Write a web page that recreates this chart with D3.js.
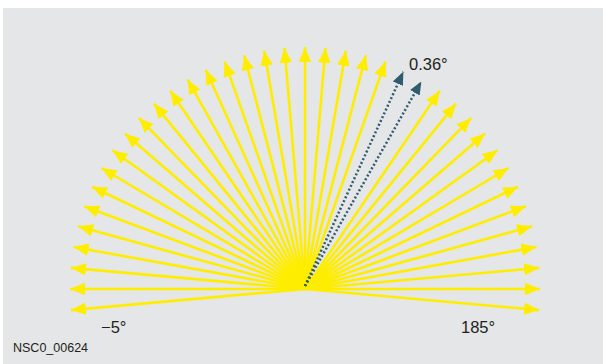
<!DOCTYPE html>
<html>
<head>
<meta charset="utf-8">
<title>fan</title>
<script src="https://cdn.jsdelivr.net/npm/d3@7"></script>
<style>
  body { margin: 0; background: #fff; }
  text { font-family: "Liberation Sans", Arial, sans-serif; fill: #231f20; }
</style>
</head>
<body>
<svg id="chart" width="603" height="364"></svg>
<script>
// beam directions in degrees (0 = pointing left, 90 = up, 180 = right)
var yellowAngles = [-5, 0, 5, 10, 15, 20, 25, 30, 35, 40, 45, 50, 55, 60, 65, 70, 75, 80, 85, 90,
  95, 100, 105, 110, 125, 130, 135, 140, 145, 150, 155, 160, 165, 170, 175, 180, 185]
var blueAngles = [115, 120]
var blueLengths = [0.99, 0.99]
var endLabels = ["\u22125\u00b0", "185\u00b0"]
var stepLabel = "0.36\u00b0"
var figId = "NSC0_00624"

var svg = d3.select("#chart")

// background panel
svg.append("rect").attr("x", 3).attr("y", 8).attr("width", 600).attr("height", 356).attr("fill", "#e5e6e7")

var cx = 305, cy = 289
// unit vector -> pixel
var x = d3.scaleLinear().domain([-1, 1]).range([cx - 235, cx + 235])
var y = d3.scaleLinear().domain([0, 1]).range([cy, cy - 242])
var rad = d3.scaleLinear().domain([0, 180]).range([0, Math.PI])

var defs = svg.append("defs")
function marker(id, color, w, h) {
  defs.append("marker")
    .attr("id", id)
    .attr("markerUnits", "userSpaceOnUse")
    .attr("viewBox", "0 0 " + w + " " + h)
    .attr("refX", w).attr("refY", h / 2)
    .attr("markerWidth", w).attr("markerHeight", h)
    .attr("orient", "auto")
    .append("path")
    .attr("d", "M0,0L" + w + "," + (h / 2) + "L0," + h + "Z")
    .attr("fill", color)
}
marker("headY", "#ffed00", 15, 12.5)
marker("headB", "#2f5c6e", 13, 11)

var g = svg.append("g")

g.selectAll("line.y")
  .data(yellowAngles)
  .enter()
  .append("line")
  .attr("class", "y")
  .attr("x1", x(0)).attr("y1", y(0))
  .attr("x2", function (d) { return x(-Math.cos(rad(d))) })
  .attr("y2", function (d) { return y(Math.sin(rad(d))) })
  .attr("stroke", "#ffed00")
  .attr("stroke-width", 2.6)
  .attr("marker-end", "url(#headY)")

g.selectAll("line.b")
  .data(blueAngles)
  .enter()
  .append("line")
  .attr("class", "b")
  .attr("x1", x(0)).attr("y1", y(0) - 3)
  .attr("x2", function (d, i) { return x(-Math.cos(rad(d)) * blueLengths[i]) })
  .attr("y2", function (d, i) { return y(Math.sin(rad(d)) * blueLengths[i]) })
  .attr("stroke", "#2f5c6e")
  .attr("stroke-width", 2.5)
  .attr("stroke-dasharray", "2,2.2")
  .attr("marker-end", "url(#headB)")

svg.append("text").attr("x", 409).attr("y", 70).attr("font-size", 16.5).text(stepLabel)
svg.append("text").attr("x", 101).attr("y", 333).attr("font-size", 16.5).text(endLabels[0])
svg.append("text").attr("x", 461).attr("y", 333).attr("font-size", 16.5).text(endLabels[1])
svg.append("text").attr("x", 13).attr("y", 352).attr("font-size", 12.5).text(figId)
</script>
</body>
</html>
